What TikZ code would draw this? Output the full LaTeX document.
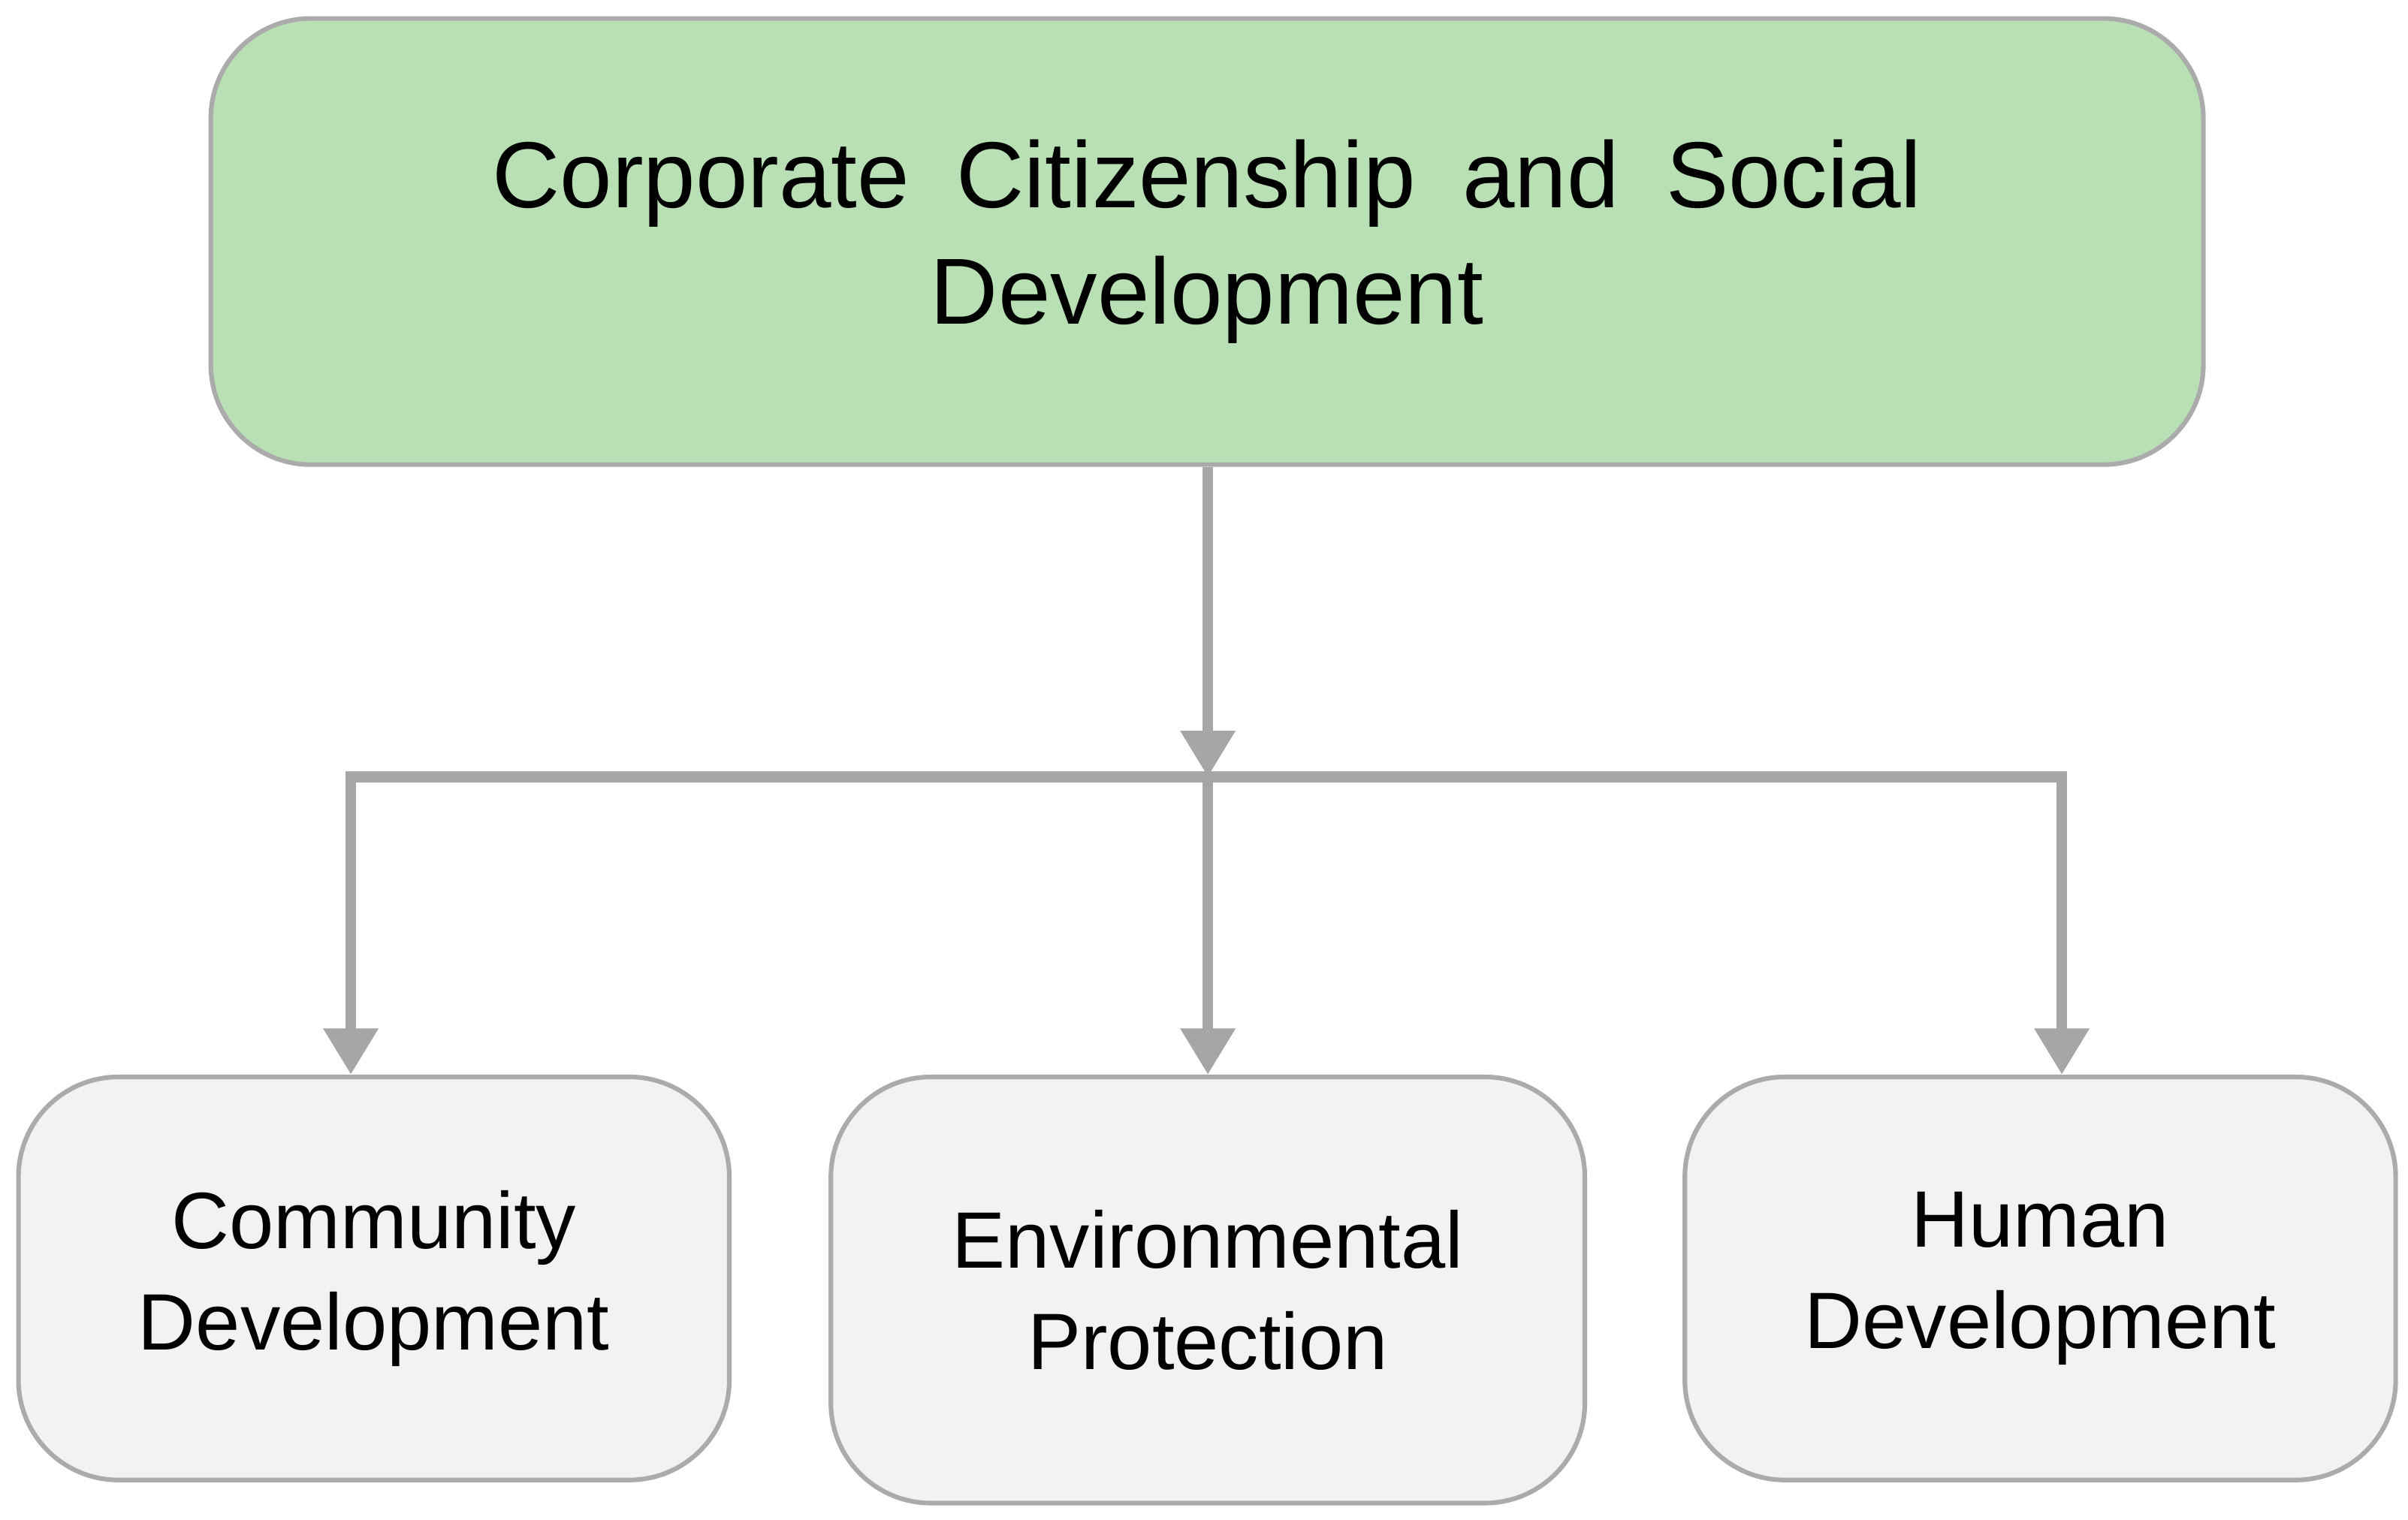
\documentclass[tikz,border=0pt]{standalone}
\usepackage{fontspec}
\setmainfont{Liberation Sans}
\usetikzlibrary{arrows.meta}
\definecolor{topfill}{HTML}{B9E0B4}
\definecolor{botfill}{HTML}{F2F2F2}
\definecolor{edge}{HTML}{ABABAB}
\definecolor{conn}{HTML}{A6A6A6}
\tikzset{
 box/.style={draw=edge,line width=3pt,rounded corners=65pt,inner sep=0pt,align=center},
 topbox/.style={box,fill=topfill,minimum width=1295pt,minimum height=290pt,font=\fontsize{61}{76}\selectfont},
 botbox/.style={box,fill=botfill,font=\fontsize{52}{66}\selectfont},
 conn/.style={draw=conn,line width=7pt,line join=miter},
 arr/.style={conn,-{Triangle[length=30pt,width=34pt]}}
}
\begin{document}
\begin{tikzpicture}[x=1pt,y=-1pt]
\useasboundingbox (0,0) rectangle (1565,988);
\node[topbox] (top) at (784.5,157) {Corporate\enspace Citizenship\enspace and\enspace Social\\Development};
\node[botbox,minimum width=462pt,minimum height=262pt] (a) at (243,831) {Community\\Development};
\node[botbox,minimum width=490pt,minimum height=277pt] (b) at (785,838.5) {Environmental\\Protection};
\node[botbox,minimum width=462pt,minimum height=262pt] (c) at (1326,831) {Human\\Development};
\coordinate (j) at (785,505);
\coordinate (l) at (228,505);
\coordinate (r) at (1340,505);
\draw[arr] (top.south -| j) -- (j);
\draw[arr] (j) -| (l |- a.north);
\draw[arr] (j) -| (r |- c.north);
\draw[arr] (j) -- (b.north);
\end{tikzpicture}
\end{document}
